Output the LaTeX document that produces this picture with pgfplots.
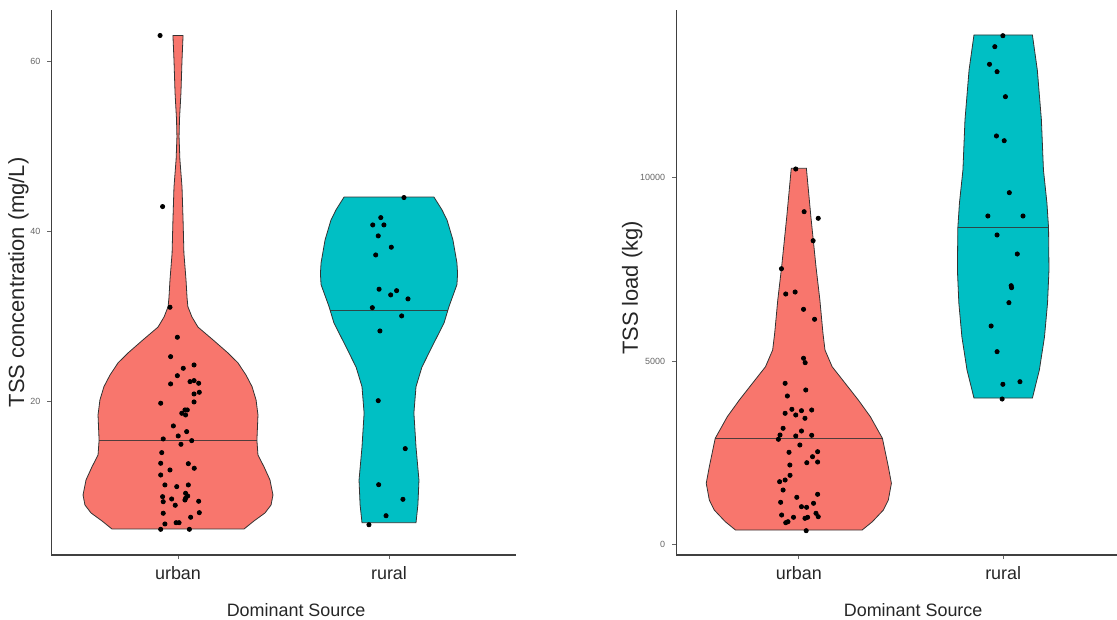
\documentclass[border=0pt]{standalone}
\usepackage{fontspec}
\setmainfont{Liberation Sans}
\usepackage{pgfplots}
\pgfplotsset{compat=1.18}
\definecolor{ured}{HTML}{F8766D}
\definecolor{rteal}{HTML}{00BFC4}
\pgfplotsset{
  vstyle/.style={
    scale only axis,
    xmin=0.4, xmax=2.6,
    axis x line*=bottom, axis y line*=left,
    axis line style={-, black!75, line width=0.6bp},
    xtick={1,2}, xticklabels={urban,rural},
    tick align=outside,
    major tick length=2bp,
    tick style={black!60, line width=0.4bp},
    xticklabel style={font=\fontsize{9}{10}\selectfont, text=black!85},
    yticklabel style={font=\fontsize{4.5}{5}\selectfont, text=black!60},
    /pgf/number format/assume math mode=true,
    xlabel={Dominant Source},
    xlabel style={font=\fontsize{9}{10}\selectfont, text=black!85, at={(axis description cs:0.527,-0.101)}, anchor=center},
    ylabel style={font=\fontsize{11}{12}\selectfont, text=black!85, anchor=center},
    clip=false,
  },
  vfill/.style={draw=black!80, line width=0.4bp, fill=#1},
  vmed/.style={black!80, opacity=0.85, line width=0.5bp},
  vpts/.style={only marks, mark=*, mark size=1.05bp, black, mark options={fill=black}},
}
\begin{document}
\begin{tikzpicture}
% ---------------- left panel ----------------
\begin{axis}[vstyle, at={(25.7bp,32.5bp)}, anchor=south west,
  width=232.1bp, height=272.5bp,
  ymin=1.9, ymax=66.0, ytick={20,40,60},
  ylabel={TSS concentration (mg/L)},
  ylabel style={at={(axis description cs:-0.071,0.5)}}]
\addplot[vfill=ured] coordinates {
(0.687,4.96) (0.640,5.9) (0.588,6.84) (0.559,7.78) (0.550,8.96) (0.564,10.72) (0.592,12.25) (0.621,13.66) (0.626,15.4) (0.621,18.37) (0.630,20.14) (0.649,21.7) (0.678,23.08) (0.716,24.5) (0.763,25.66) (0.834,27.2) (0.905,28.7) (0.934,29.9) (0.953,31.1) (0.957,32.1) (0.962,34.25) (0.972,37.4) (0.976,41.3) (0.981,45.2) (0.991,48.4) (0.995,51.1) (0.993,53.1) (0.986,56.25) (0.981,60.1) (0.976,63.0)
(1.024,63.0) (1.019,60.1) (1.014,56.25) (1.007,53.1) (1.005,51.1) (1.009,48.4) (1.019,45.2) (1.024,41.3) (1.028,37.4) (1.038,34.25) (1.043,32.1) (1.047,31.1) (1.066,29.9) (1.095,28.7) (1.166,27.2) (1.237,25.66) (1.284,24.5) (1.322,23.08) (1.351,21.7) (1.370,20.14) (1.379,18.37) (1.374,15.4) (1.379,13.66) (1.408,12.25) (1.436,10.72) (1.450,8.96) (1.441,7.78) (1.412,6.84) (1.360,5.9) (1.313,4.96)
} -- cycle;
\addplot[vmed] coordinates {(0.626,15.4) (1.374,15.4)};
\addplot[vfill=rteal] coordinates {
(1.872,5.7) (1.863,7.8) (1.858,10.7) (1.872,14.6) (1.882,18.6) (1.872,21.7) (1.844,24.0) (1.796,26.4) (1.739,29.2) (1.716,31.1) (1.678,33.7) (1.675,35.0) (1.678,36.25) (1.697,38.96) (1.725,41.3) (1.749,42.5) (1.787,44.0)
(2.213,44.0) (2.251,42.5) (2.275,41.3) (2.303,38.96) (2.322,36.25) (2.325,35.0) (2.322,33.7) (2.284,31.1) (2.261,29.2) (2.204,26.4) (2.156,24.0) (2.128,21.7) (2.118,18.6) (2.128,14.6) (2.142,10.7) (2.137,7.8) (2.128,5.7)
} -- cycle;
\addplot[vmed] coordinates {(1.721,30.7) (2.279,30.7)};
\addplot[vpts] coordinates {
(0.915,63.0) (0.927,42.88)
(0.962,31.04) (0.997,27.51) (0.965,25.23) (1.025,23.86) (1.076,24.25) (0.997,22.99) (0.965,22.02) (1.057,22.29) (1.076,22.41) (1.098,22.1)
(1.076,20.84) (1.101,21.04) (0.918,19.75) (1.076,19.9) (1.033,18.96) (1.044,18.96) (1.018,18.57) (1.036,18.37) (0.978,17.08) (1.041,16.41)
(0.930,15.55) (1.001,15.9) (1.065,15.35) (1.014,14.92) (0.923,13.94) (0.918,12.69) (1.049,12.64) (0.962,11.9) (1.077,12.1) (0.918,11.31)
(0.938,10.14) (0.994,9.94) (1.049,10.14) (1.036,9.16) (0.927,8.76) (0.970,8.49) (1.046,8.84) (1.036,8.57) (1.033,8.37) (0.930,8.17)
(0.987,7.75) (1.098,8.22) (0.930,6.81) (1.101,6.88) (1.060,6.34) (0.938,5.55) (0.991,5.7) (1.005,5.7) (0.918,4.92) (1.054,4.92)
(2.071,43.94) (1.961,41.58) (1.923,40.72) (1.976,40.72) (1.949,39.43) (2.011,38.1) (1.937,37.19) (1.953,33.16) (2.036,32.99) (2.008,32.49)
(2.09,32.02) (1.921,30.99) (2.06,30.02) (1.957,28.25) (1.949,20.05) (2.077,14.41) (1.951,10.17) (2.066,8.45) (1.986,6.52) (1.905,5.46)
};
\end{axis}
% ---------------- right panel ----------------
\begin{axis}[vstyle, at={(338.1bp,32.5bp)}, anchor=south west,
  width=224.8bp, height=272.5bp,
  ymin=-293, ymax=14576, ytick={0,5000,10000},
  scaled y ticks=false,
  yticklabel style={/pgf/number format/1000 sep={}},
  ylabel={TSS load (kg)},
  ylabel style={at={(axis description cs:-0.098,0.49)}}]
\addplot[vfill=ured] coordinates {
(0.690,389) (0.640,616) (0.586,935) (0.562,1208) (0.547,1663) (0.562,2116) (0.591,2891) (0.650,3480) (0.709,3936) (0.773,4391) (0.837,4844) (0.872,5300) (0.882,5764) (0.897,6664) (0.916,7573) (0.941,8937) (0.963,10257)
(1.037,10257) (1.059,8937) (1.084,7573) (1.103,6664) (1.118,5764) (1.128,5300) (1.163,4844) (1.227,4391) (1.291,3936) (1.350,3480) (1.409,2891) (1.438,2116) (1.453,1663) (1.438,1208) (1.414,935) (1.360,616) (1.310,389)
} -- cycle;
\addplot[vmed] coordinates {(0.591,2891) (1.409,2891)};
\addplot[vfill=rteal] coordinates {
(1.857,3990) (1.823,4754) (1.798,5655) (1.783,6582) (1.776,7483) (1.778,8629) (1.786,9311) (1.803,10211) (1.813,11575) (1.833,12939) (1.857,13894)
(2.143,13894) (2.167,12939) (2.187,11575) (2.197,10211) (2.214,9311) (2.222,8629) (2.224,7483) (2.217,6582) (2.202,5655) (2.177,4754) (2.143,3990)
} -- cycle;
\addplot[vmed] coordinates {(1.778,8629) (2.222,8629)};
\addplot[vpts] coordinates {
(0.985,10238) (1.026,9073) (1.095,8893) (1.070,8282) (0.915,7518) (0.936,6828) (0.982,6882) (1.023,6410) (1.077,6138) (1.023,5074)
(1.031,4954) (0.933,4391) (1.034,4209) (0.944,4045) (0.966,3682) (1.013,3644) (1.063,3663) (0.933,3573) (0.985,3527) (1.030,3437)
(0.923,3164) (0.908,2981) (0.985,2954) (1.013,3090) (1.063,2973) (0.900,2864) (1.005,2708) (0.952,2509) (1.092,2525) (1.067,2389)
(1.039,2225) (1.092,2244) (0.956,2162) (0.957,1881) (0.906,1707) (0.933,1753) (0.923,1480) (0.990,1281) (1.092,1363) (0.911,1145)
(1.013,1025) (1.038,1008) (1.072,1118) (0.916,798) (0.974,736) (1.030,708) (1.043,736) (1.084,845) (1.095,752) (0.936,588)
(0.947,616) (1.036,370)
(1.9985,13875) (1.959,13575) (1.933,13095) (1.970,12893) (2.011,12211) (1.967,11139) (2.005,11010) (2.030,9592) (1.925,8956) (2.097,8956)
(1.970,8438) (2.069,7919) (2.039,7054) (2.041,7000) (2.028,6591) (1.941,5955) (1.970,5254) (1.9985,4364) (2.082,4435) (1.995,3963)
};
\end{axis}
\pgfresetboundingbox
\path[use as bounding box] (0bp,0bp) rectangle (558.5bp,310bp);
\end{tikzpicture}
\end{document}
